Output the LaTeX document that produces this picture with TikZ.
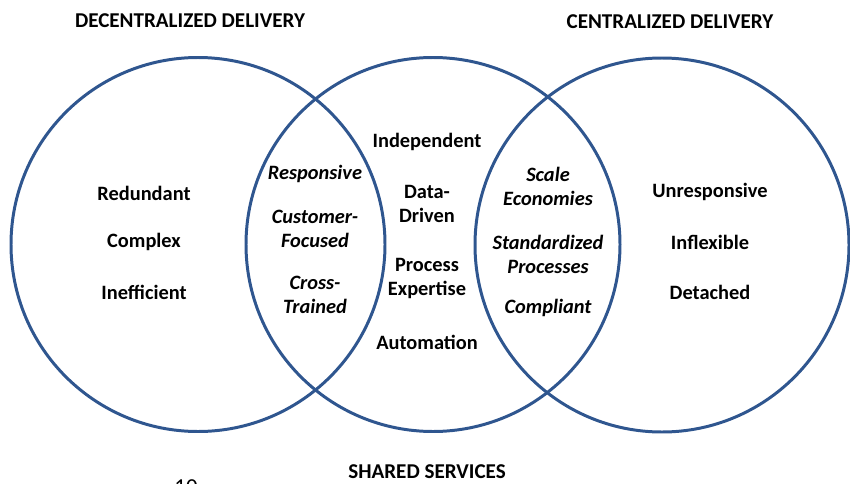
\documentclass[tikz,border=0pt]{standalone}
\usepackage{fontspec}
\setmainfont{Carlito}
\usepackage{tikz}
\definecolor{ringblue}{RGB}{47,86,143}

\begin{document}
\begin{tikzpicture}[line width = 1.7pt,
  ring/.style={draw=ringblue},
  word/.style={font=\fontsize{11.6}{13.7}\selectfont\bfseries, align=center, inner sep=0pt},
  lens/.style={word, font=\fontsize{11.6}{13.7}\selectfont\bfseries\itshape},
  heading/.style={font=\fontsize{12}{14}\selectfont\bfseries, inner sep=0pt}]

\clip (0,0) rectangle (17,9.66);

\draw[ring] (3.96,4.77) circle (3.74);
\draw[ring] (8.66,4.77) circle (3.74);
\draw[ring] (13.24,4.76) circle (3.74);

\node [heading] (decent) at (3.8,9.24) {DECENTRALIZED DELIVERY};
\node [heading] (cent) at (13.4,9.22) {CENTRALIZED DELIVERY};
\node [heading] (shared) at (8.54,0.22) {SHARED SERVICES};
\node [font=\fontsize{13}{15}\selectfont, inner sep=0pt] (pagenum) at (3.72,-0.09) {10};

% decentralized only
\node [word] (redundant) at (2.88,5.80) {Redundant};
\node [word] (complex) at (2.88,4.82) {Complex};
\node [word] (ineff) at (2.88,3.82) {Inefficient};

% left overlap
\node [lens] (respons) at (6.30,6.18) {Responsive};
\node [lens] (custfoc) at (6.30,5.09) {Customer-\\Focused};
\node [lens] (cross) at (6.30,3.76) {Cross-\\Trained};

% shared services
\node [word] (indep) at (8.54,6.82) {Independent};
\node [word] (data) at (8.54,5.58) {Data-\\Driven};
\node [word] (procexp) at (8.54,4.09) {Process\\Expertise};
\node [word] (auto) at (8.54,2.82) {Automation};

% right overlap
\node [lens] (scale) at (10.96,5.94) {Scale\\Economies};
\node [lens] (stdproc) at (10.96,4.57) {Standardized\\Processes};
\node [lens] (compl) at (10.96,3.50) {Compliant};

% centralized only
\node [word] (unresp) at (14.2,5.82) {Unresponsive};
\node [word] (inflex) at (14.2,4.82) {Inflexible};
\node [word] (detach) at (14.2,3.82) {Detached};

\end{tikzpicture}
\end{document}
